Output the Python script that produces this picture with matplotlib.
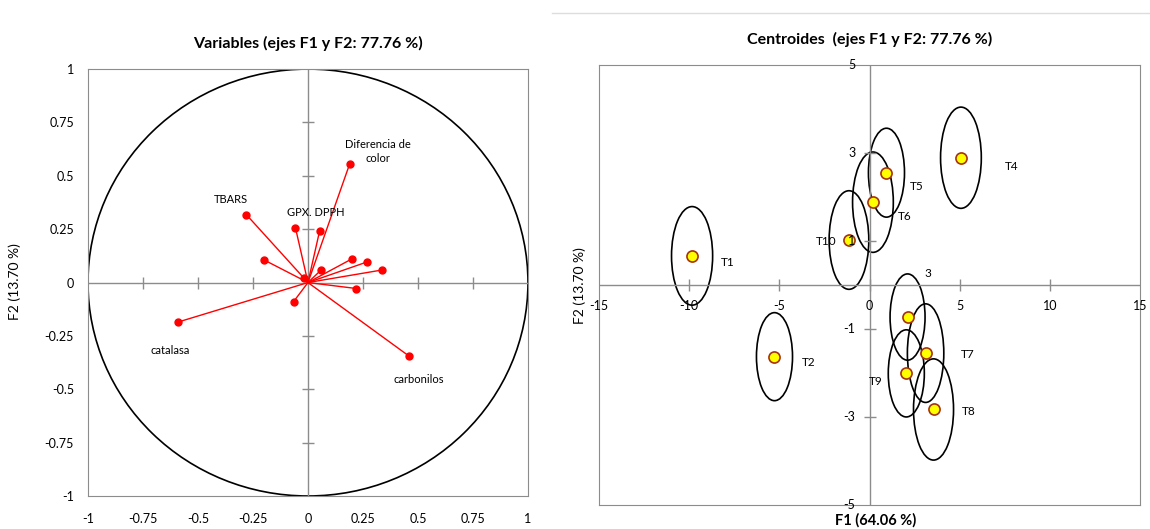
import numpy as np
import matplotlib.pyplot as plt
from matplotlib.patches import Ellipse, Circle

plt.rcParams['font.family'] = ['Lato', 'DejaVu Sans']

# Variables (loadings on F1 / F2)
var_names = ['Diferencia de\ncolor', 'TBARS', 'GPX. DPPH', '', '', '', '', '', '', '',
             '', '', 'catalasa', 'carbonilos']
var_f1 = [0.19, -0.28, -0.057, 0.053, -0.198, 0.20, 0.27, 0.338, 0.06, -0.02,
          0.22, -0.065, -0.59, 0.46]
var_f2 = [0.557, 0.318, 0.257, 0.242, 0.105, 0.111, 0.097, 0.059, 0.059, 0.019,
          -0.028, -0.089, -0.185, -0.345]

# Centroids with their ellipse half-axes
cen_names = ['T1', 'T2', '3', 'T4', 'T5', 'T6', 'T7', 'T8', 'T9', 'T10']
cen_f1 = [-9.84, -5.27, 2.11, 5.07, 0.94, 0.19, 3.11, 3.55, 2.04, -1.14]
cen_f2 = [0.66, -1.63, -0.73, 2.89, 2.55, 1.88, -1.55, -2.83, -2.01, 1.02]
ell_rx = [1.14, 1.0, 0.97, 1.13, 1.0, 1.13, 1.01, 1.11, 1.0, 1.1]
ell_ry = [1.12, 1.0, 0.98, 1.15, 1.01, 1.14, 1.12, 1.15, 0.99, 1.12]

ticks_var = [-1, -0.75, -0.5, -0.25, 0, 0.25, 0.5, 0.75, 1]
tick_var_labels = ['-1', '-0.75', '-0.5', '-0.25', '0', '0.25', '0.5', '0.75', '1']
ticks_cx = [-15, -10, -5, 0, 5, 10, 15]
ticks_cy = [5, 3, 1, -1, -3, -5]

grey = '#8c8c8c'

fig = plt.figure(figsize=(11.5, 5.29), dpi=100)

# ---------------- left: correlation circle ----------------
ax1 = fig.add_axes([0.0765, 0.0624, 0.3826, 0.807])
ax1.set_xlim(-1, 1)
ax1.set_ylim(-1, 1)
for s in ax1.spines.values():
    s.set_color(grey)
ax1.set_xticks(ticks_var)
ax1.set_xticklabels(tick_var_labels)
ax1.set_yticks(ticks_var)
ax1.set_yticklabels(tick_var_labels)
ax1.tick_params(axis='x', length=0, pad=12, labelsize=9)
ax1.tick_params(axis='y', length=0, pad=10, labelsize=9)

ax1.axhline(0, color=grey, lw=1)
ax1.axvline(0, color=grey, lw=1)
inner = [t for t in ticks_var if abs(t) < 1 and t != 0]
ax1.plot(inner, [0] * len(inner), ls='none', marker='|', ms=8, color=grey, mew=1)
ax1.plot([0] * len(inner), inner, ls='none', marker='_', ms=8, color=grey, mew=1)

ax1.add_patch(Circle((0, 0), 1, fill=False, ec='black', lw=1.2))

for x, y in zip(var_f1, var_f2):
    ax1.plot([0, x], [0, y], color='red', lw=1)
ax1.plot(var_f1, var_f2, 'o', color='red', ms=5)

var_off = {'Diferencia de\ncolor': (28, 12), 'TBARS': (-15, 15), 'GPX. DPPH': (20, 15),
           'catalasa': (-8, -28), 'carbonilos': (10, -23)}
for name, x, y in zip(var_names, var_f1, var_f2):
    if name:
        ax1.annotate(name, (x, y), xytext=var_off[name], textcoords='offset pixels',
                     ha='center', va='center', fontsize=8, linespacing=1.4)

ax1.set_title('Variables (ejes F1 y F2: 77.76 %)', fontsize=11.5, fontweight='bold', pad=15)
fig.text(0.013, 0.467, 'F2 (13.70 %)', rotation=90, ha='center', va='center', fontsize=10)

# ---------------- right: centroids ----------------
ax2 = fig.add_axes([0.5209, 0.0454, 0.4704, 0.832])
ax2.set_xlim(-15, 15)
ax2.set_ylim(-5, 5)
for s in ax2.spines.values():
    s.set_color(grey)
ax2.set_xticks([])
ax2.set_yticks([])
ax2.axhline(0, color=grey, lw=1)
ax2.axvline(0, color=grey, lw=1)
ax2.plot(ticks_cx[1:-1], [0] * 5, ls='none', marker='|', ms=8, color=grey, mew=1)
ax2.plot([0] * 4, ticks_cy[1:-1], ls='none', marker='_', ms=8, color=grey, mew=1)

for t in ticks_cx:
    ax2.annotate(str(t), (t, 0), xytext=(0, -21), textcoords='offset pixels',
                 ha='center', va='center', fontsize=9)
for t in ticks_cy:
    ax2.annotate(str(t), (0, t), xytext=(-14, 0), textcoords='offset pixels',
                 ha='right', va='center', fontsize=9)

for x, y, rx, ry in zip(cen_f1, cen_f2, ell_rx, ell_ry):
    ax2.add_patch(Ellipse((x, y), 2 * rx, 2 * ry, fill=False, ec='black', lw=1.2))
ax2.plot(cen_f1, cen_f2, 'o', mfc='yellow', mec='#a8320c', mew=1.2, ms=8)

cen_off = [(36, -7), (34, -6), (20, 44), (51, -9), (30, -14), (32, -14),
           (42, -1), (35, -2), (-31, -8), (-23, -1)]
for name, x, y, off in zip(cen_names, cen_f1, cen_f2, cen_off):
    ax2.annotate(name, (x, y), xytext=off, textcoords='offset pixels',
                 ha='center', va='center', fontsize=8.5)

ax2.set_title('Centroides  (ejes F1 y F2: 77.76 %)', fontsize=11.5, fontweight='bold', pad=15)
fig.text(0.761, 0.017, 'F1 (64.06 %)', ha='center', va='center', fontsize=10.5, fontweight='bold')
fig.text(0.504, 0.461, 'F2 (13.70 %)', rotation=90, ha='center', va='center', fontsize=10)

# faint line at the top right
fig.add_artist(plt.Line2D([0.48, 1.0], [0.975, 0.975], color='#dddddd', lw=1))

fig.savefig('out.png', dpi=100)
